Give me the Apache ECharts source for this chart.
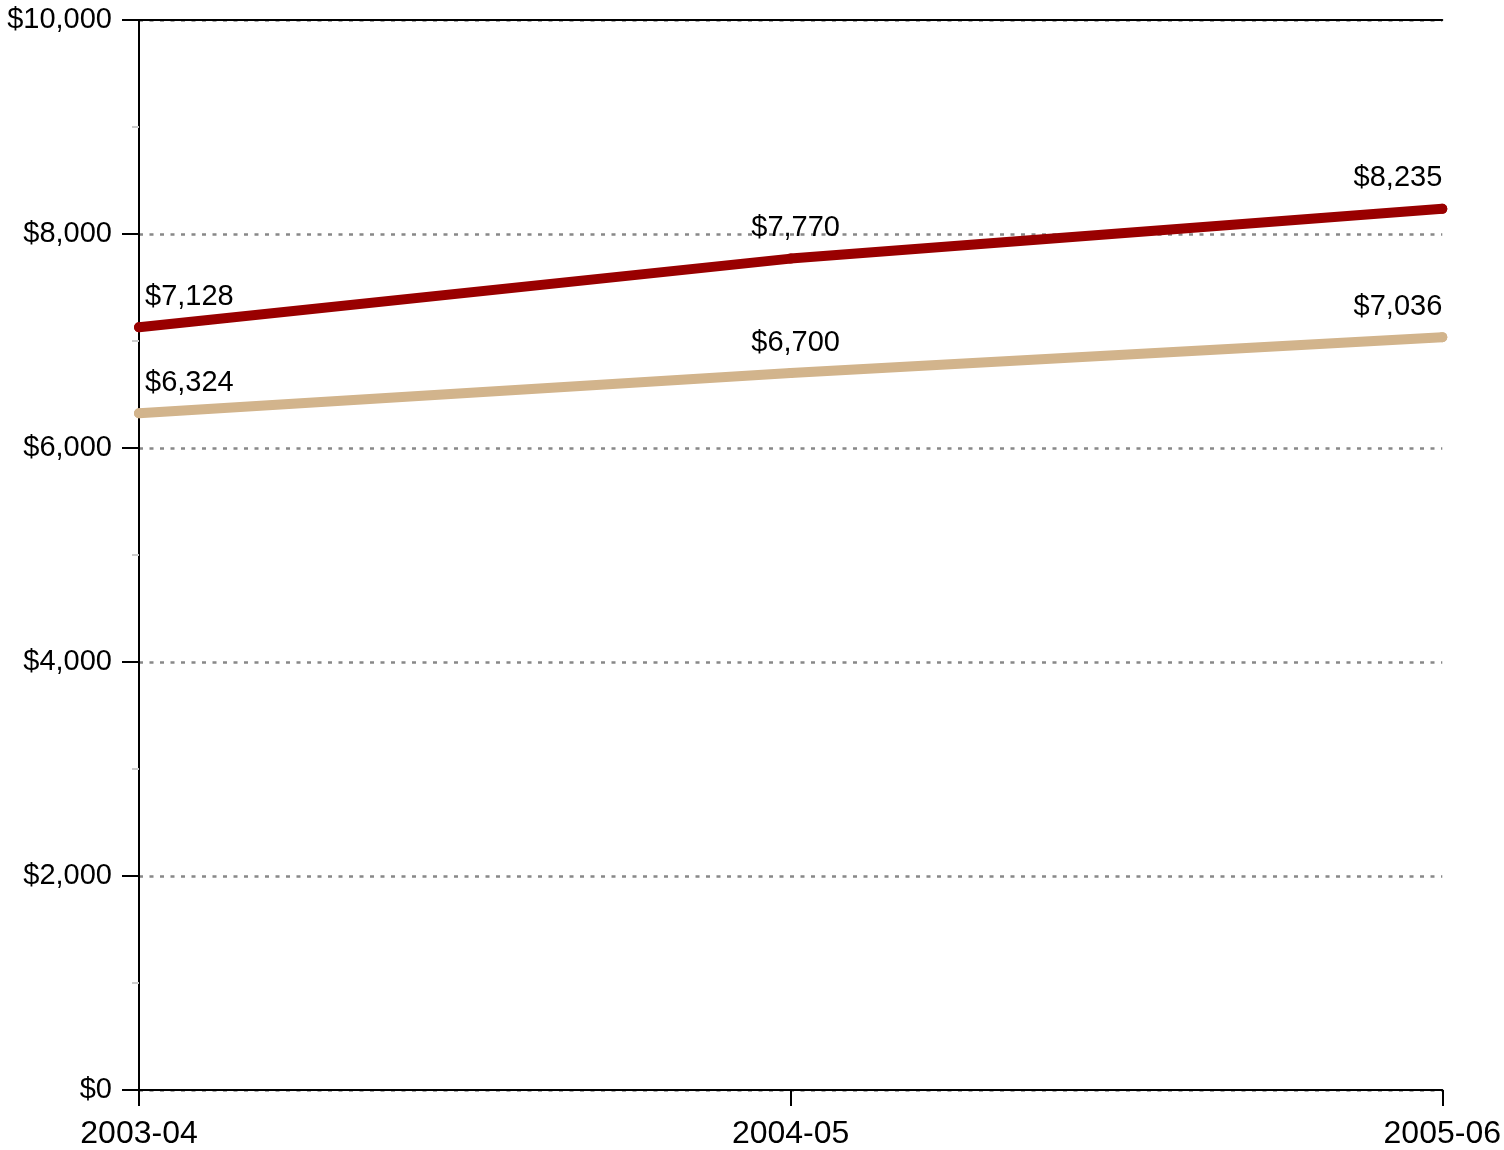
<!DOCTYPE html>
<html>
<head>
<meta charset="utf-8">
<script src="https://cdn.jsdelivr.net/npm/echarts@6/dist/echarts.min.js"></script>
<style>
html,body{margin:0;padding:0;background:#fff;}
#chart{width:1504px;height:1150px;}
</style>
</head>
<body>
<div id="chart"></div>
<script>
const categories = ['2003-04', '2004-05', '2005-06'];
const seriesRed = [7128, 7770, 8235];
const seriesTan = [6324, 6700, 7036];
const yTicks = { min: 0, max: 10000, interval: 2000 };

const FONT = '"Liberation Sans", Arial, Helvetica, sans-serif';

function fmt(v) {
  return '$' + v.toLocaleString('en-US');
}

function labelled(values) {
  return values.map((v, i) => {
    let align = 'center', offset = [5, 0];
    if (i === 0) { align = 'left'; offset = [6, 0]; }
    if (i === values.length - 1) { align = 'right'; offset = [0, 0]; }
    return { value: v, label: { align: align, offset: offset } };
  });
}

function lineSeries(values, color) {
  return {
    type: 'line',
    data: labelled(values),
    xAxisIndex: 0,
    symbol: 'circle',
    symbolSize: 10,
    showSymbol: true,
    lineStyle: { color: color, width: 10, cap: 'round', join: 'round' },
    itemStyle: { color: color, borderWidth: 0 },
    label: {
      show: true, position: 'top', distance: 11,
      color: '#000', fontSize: 29, fontFamily: FONT,
      formatter: p => fmt(p.value)
    },
    emphasis: { disabled: true },
    z: 3
  };
}

const chart = echarts.init(document.getElementById('chart'), null, { renderer: 'canvas' });
chart.setOption({
  animation: false,
  backgroundColor: '#fff',
  grid: { left: 139, right: 60, top: 20, bottom: 60, containLabel: false },
  xAxis: [{
    type: 'category',
    data: categories,
    boundaryGap: false,
    position: 'bottom',
    axisLine: { show: true, lineStyle: { color: '#000', width: 2 } },
    axisTick: { show: true, length: 16, lineStyle: { color: '#000', width: 2 } },
    axisLabel: { color: '#000', fontSize: 32, fontFamily: FONT, margin: 28 },
    splitLine: { show: false }
  }, {
    type: 'category',
    data: categories,
    boundaryGap: false,
    position: 'top',
    axisLine: { show: true, lineStyle: { color: '#000', width: 2 } },
    axisTick: { show: false },
    axisLabel: { show: false },
    splitLine: { show: false }
  }],
  yAxis: {
    type: 'value',
    min: yTicks.min,
    max: yTicks.max,
    interval: yTicks.interval,
    axisLine: { show: true, lineStyle: { color: '#000', width: 2 } },
    axisTick: { show: true, length: 17, lineStyle: { color: '#000', width: 2 } },
    minorTick: { show: true, splitNumber: 2, length: 7, lineStyle: { color: '#cccccc', width: 2 } },
    axisLabel: {
      color: '#000', fontSize: 29, fontFamily: FONT, margin: 27,
      formatter: v => fmt(v)
    },
    splitLine: { show: true, lineStyle: { color: '#888888', width: 2.5, type: [4, 6.5] } }
  },
  series: [
    lineSeries(seriesRed, '#990000'),
    lineSeries(seriesTan, '#D2B48C')
  ]
});
</script>
</body>
</html>
